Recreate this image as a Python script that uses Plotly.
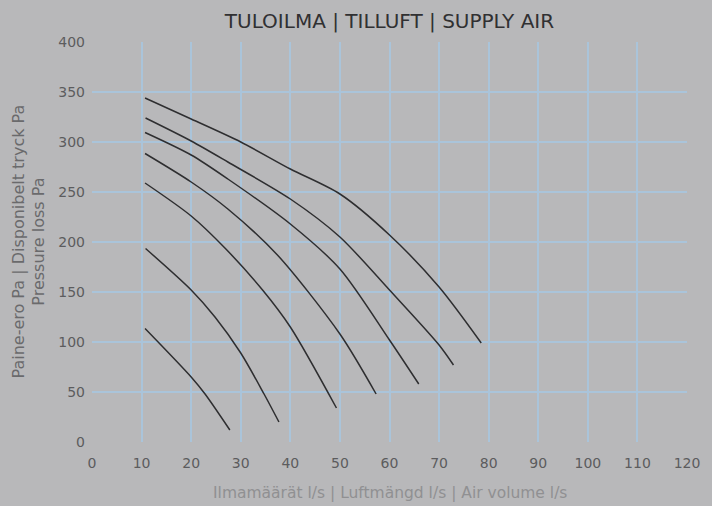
import plotly.graph_objects as go

# Data (x: air volume l/s, y: pressure Pa)
c1_x = [10.7, 20, 30, 40, 50, 60, 70, 78.5]
c1_y = [344, 323, 300, 273, 248, 207, 155, 99]
c2_x = [10.8, 20, 27.4, 40, 50, 60, 70, 72.9]
c2_y = [324, 301, 280, 243, 205, 152, 97, 77]
c3_x = [10.7, 20, 27.4, 40, 50, 60, 65.9]
c3_y = [309.5, 287, 263, 218, 173, 102, 58]
c4_x = [10.7, 20, 27.4, 37.4, 50, 57.3]
c4_y = [288.5, 260, 233, 187, 108, 48]
c5_x = [10.7, 20, 27, 34.4, 40, 49.3]
c5_y = [259, 226, 193, 152, 115, 34]
c6_x = [10.8, 20, 24.8, 30, 34.7, 37.7]
c6_y = [193.5, 152, 125, 89, 48, 20]
c7_x = [10.7, 20, 22.8, 27.8]
c7_y = [113.5, 65, 48, 12]

curves = [(c1_x, c1_y), (c2_x, c2_y), (c3_x, c3_y), (c4_x, c4_y),
          (c5_x, c5_y), (c6_x, c6_y), (c7_x, c7_y)]

x_ticks = list(range(0, 121, 10))
y_ticks = list(range(0, 401, 50))

title_text = "TULOILMA | TILLUFT | SUPPLY AIR"
x_title = "Ilmamäärät l/s | Luftmängd l/s | Air volume l/s"
y_title = "Paine-ero Pa | Disponibelt tryck Pa<br>Pressure loss Pa"

bg = "#b8b8ba"
grid = "#aac4da"
font_family = "DejaVu Sans"

fig = go.Figure()
for cx, cy in curves:
    fig.add_trace(go.Scatter(x=cx, y=cy, mode="lines",
                             line=dict(color="#2e2e30", width=1.5, shape="spline", smoothing=0.8),
                             showlegend=False, hoverinfo="skip"))

fig.update_layout(
    width=712, height=506,
    margin=dict(l=92, r=20, t=42, b=64),
    paper_bgcolor=bg, plot_bgcolor=bg,
    font=dict(family=font_family),
    title=dict(text=title_text, x=0.5, xref="paper", y=1 - 21 / 506, yanchor="middle",
               font=dict(size=20, color="#303032", family=font_family)),
    showlegend=False,
)
fig.update_xaxes(range=[0, 120], tickvals=x_ticks, showgrid=True, gridcolor=grid, gridwidth=2,
                 zeroline=False, showline=False, ticks="",
                 tickfont=dict(size=14, color="#5c5c5e"), ticklabelstandoff=11)
fig.update_yaxes(range=[0, 400], tickvals=y_ticks, showgrid=True, gridcolor=grid, gridwidth=2,
                 zeroline=False, showline=False, ticks="",
                 tickfont=dict(size=14, color="#5c5c5e"), ticklabelstandoff=6)

fig.add_annotation(text=y_title, xref="paper", yref="paper", x=(28 - 92) / 600, y=0.5,
                   xanchor="center", yanchor="middle", textangle=-90, showarrow=False,
                   font=dict(size=16, color="#6a6a6c", family=font_family))
fig.add_annotation(text=x_title, xref="paper", yref="paper", x=0.5, y=(442 - 493) / 400,
                   xanchor="center", yanchor="middle", showarrow=False,
                   font=dict(size=15.5, color="#909092", family=font_family))

fig.write_html("out.html", config={"displayModeBar": False},
               post_script="document.body.style.margin='0';")
